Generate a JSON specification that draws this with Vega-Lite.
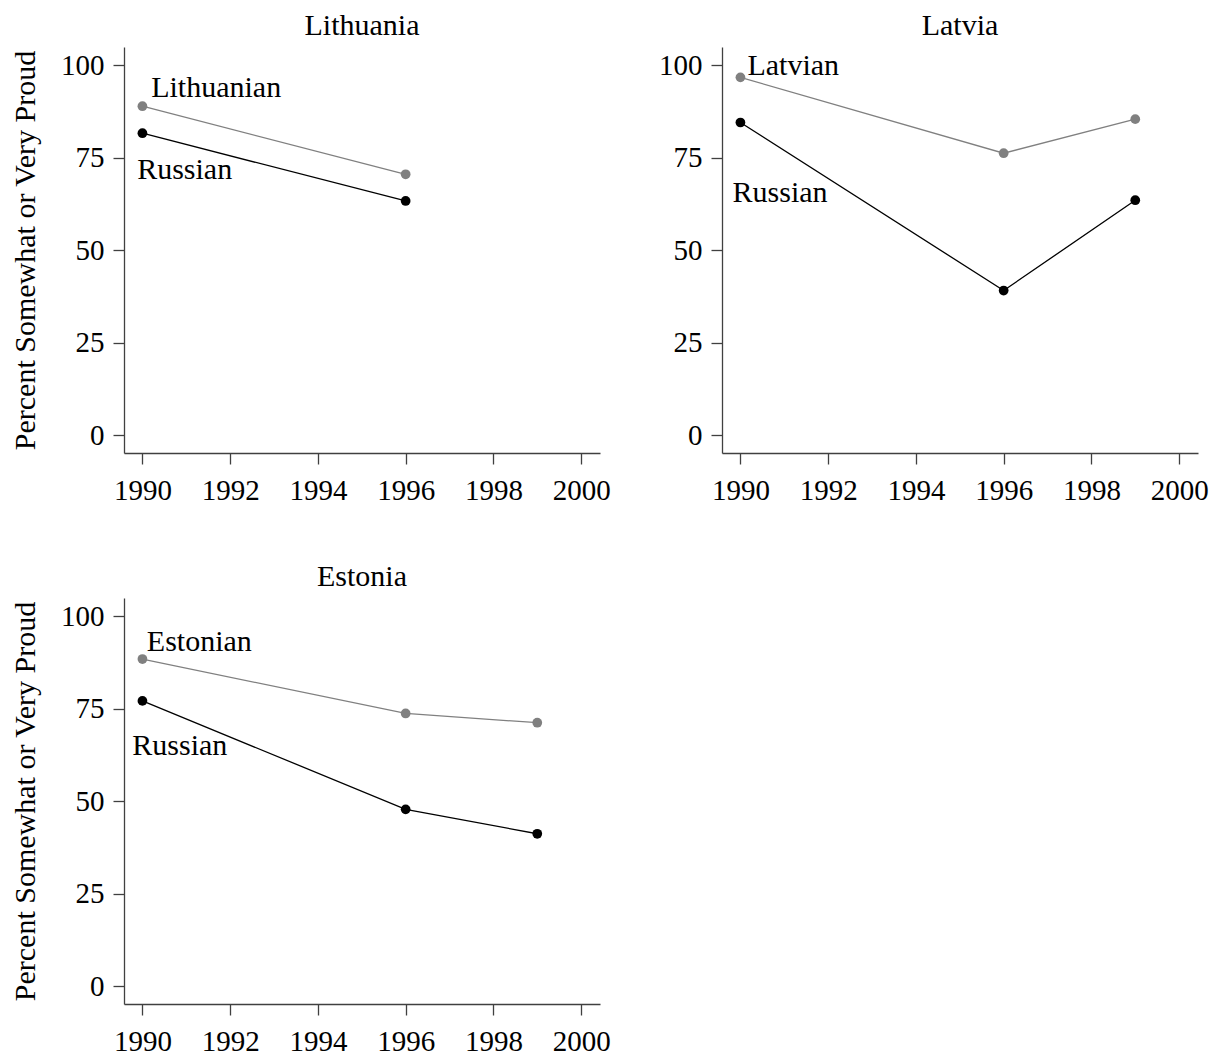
{
  "$schema": "https://vega.github.io/schema/vega-lite/v6.json",
  "background": "white",
  "padding": {"left": 10, "top": 11, "right": 5, "bottom": 5},
  "datasets": {
    "series": [
      {"country": "Lithuania", "group": "Lithuanian", "year": 1990, "value": 88.9},
      {"country": "Lithuania", "group": "Lithuanian", "year": 1996, "value": 70.5},
      {"country": "Lithuania", "group": "Russian", "year": 1990, "value": 81.6},
      {"country": "Lithuania", "group": "Russian", "year": 1996, "value": 63.3},
      {"country": "Latvia", "group": "Latvian", "year": 1990, "value": 96.7},
      {"country": "Latvia", "group": "Latvian", "year": 1996, "value": 76.2},
      {"country": "Latvia", "group": "Latvian", "year": 1999, "value": 85.4},
      {"country": "Latvia", "group": "Russian", "year": 1990, "value": 84.5},
      {"country": "Latvia", "group": "Russian", "year": 1996, "value": 39.1},
      {"country": "Latvia", "group": "Russian", "year": 1999, "value": 63.5},
      {"country": "Estonia", "group": "Estonian", "year": 1990, "value": 88.4},
      {"country": "Estonia", "group": "Estonian", "year": 1996, "value": 73.7},
      {"country": "Estonia", "group": "Estonian", "year": 1999, "value": 71.2},
      {"country": "Estonia", "group": "Russian", "year": 1990, "value": 77.1},
      {"country": "Estonia", "group": "Russian", "year": 1996, "value": 47.8},
      {"country": "Estonia", "group": "Russian", "year": 1999, "value": 41.2}
    ],
    "labels": [
      {"country": "Lithuania", "label": "Lithuanian", "year": 1990.2, "value": 93.8},
      {"country": "Lithuania", "label": "Russian", "year": 1989.88, "value": 71.6},
      {"country": "Latvia", "label": "Latvian", "year": 1990.16, "value": 99.7},
      {"country": "Latvia", "label": "Russian", "year": 1989.82, "value": 65.5},
      {"country": "Estonia", "label": "Estonian", "year": 1990.1, "value": 93.0},
      {"country": "Estonia", "label": "Russian", "year": 1989.77, "value": 64.8}
    ]
  },
  "columns": 2,
  "bounds": "flush",
  "spacing": {"row": 145, "column": 122},
  "concat": [
    {
      "title": {"text": "Lithuania"},
      "width": 476,
      "height": 406,
      "layer": [
        {
          "data": {"name": "series"},
          "transform": [{"filter": "datum.country === 'Lithuania'"}],
          "mark": {"type": "line", "strokeWidth": 1.3},
          "encoding": {
            "x": {"field": "year", "type": "quantitative", "scale": {"domain": [1989.58, 2000.43], "nice": false, "zero": false}, "axis": {"values": [1990, 1992, 1994, 1996, 1998, 2000], "format": "d", "title": null}},
            "y": {"field": "value", "type": "quantitative", "scale": {"domain": [-4.8, 104.9], "nice": false, "zero": false}, "axis": {"values": [0, 25, 50, 75, 100], "title": "Percent Somewhat or Very Proud"}},
            "color": {"field": "group", "type": "nominal", "scale": {"domain": ["Lithuanian", "Latvian", "Estonian", "Russian"], "range": ["#808080", "#808080", "#808080", "#000000"]}, "legend": null}
          }
        },
        {
          "data": {"name": "series"},
          "transform": [{"filter": "datum.country === 'Lithuania'"}],
          "mark": {"type": "point", "filled": true, "opacity": 1, "size": 95},
          "encoding": {
            "x": {"field": "year", "type": "quantitative"},
            "y": {"field": "value", "type": "quantitative"},
            "color": {"field": "group", "type": "nominal", "legend": null}
          }
        },
        {
          "data": {"name": "labels"},
          "transform": [{"filter": "datum.country === 'Lithuania'"}],
          "mark": {"type": "text", "align": "left", "baseline": "middle", "font": "Liberation Serif", "fontSize": 30, "color": "black"},
          "encoding": {
            "x": {"field": "year", "type": "quantitative"},
            "y": {"field": "value", "type": "quantitative"},
            "text": {"field": "label"}
          }
        }
      ]
    },
    {
      "title": {"text": "Latvia"},
      "width": 476,
      "height": 406,
      "layer": [
        {
          "data": {"name": "series"},
          "transform": [{"filter": "datum.country === 'Latvia'"}],
          "mark": {"type": "line", "strokeWidth": 1.3},
          "encoding": {
            "x": {"field": "year", "type": "quantitative", "scale": {"domain": [1989.58, 2000.43], "nice": false, "zero": false}, "axis": {"values": [1990, 1992, 1994, 1996, 1998, 2000], "format": "d", "title": null}},
            "y": {"field": "value", "type": "quantitative", "scale": {"domain": [-4.8, 104.9], "nice": false, "zero": false}, "axis": {"values": [0, 25, 50, 75, 100], "title": null}},
            "color": {"field": "group", "type": "nominal", "scale": {"domain": ["Lithuanian", "Latvian", "Estonian", "Russian"], "range": ["#808080", "#808080", "#808080", "#000000"]}, "legend": null}
          }
        },
        {
          "data": {"name": "series"},
          "transform": [{"filter": "datum.country === 'Latvia'"}],
          "mark": {"type": "point", "filled": true, "opacity": 1, "size": 95},
          "encoding": {
            "x": {"field": "year", "type": "quantitative"},
            "y": {"field": "value", "type": "quantitative"},
            "color": {"field": "group", "type": "nominal", "legend": null}
          }
        },
        {
          "data": {"name": "labels"},
          "transform": [{"filter": "datum.country === 'Latvia'"}],
          "mark": {"type": "text", "align": "left", "baseline": "middle", "font": "Liberation Serif", "fontSize": 30, "color": "black"},
          "encoding": {
            "x": {"field": "year", "type": "quantitative"},
            "y": {"field": "value", "type": "quantitative"},
            "text": {"field": "label"}
          }
        }
      ]
    },
    {
      "title": {"text": "Estonia"},
      "width": 476,
      "height": 406,
      "layer": [
        {
          "data": {"name": "series"},
          "transform": [{"filter": "datum.country === 'Estonia'"}],
          "mark": {"type": "line", "strokeWidth": 1.3},
          "encoding": {
            "x": {"field": "year", "type": "quantitative", "scale": {"domain": [1989.58, 2000.43], "nice": false, "zero": false}, "axis": {"values": [1990, 1992, 1994, 1996, 1998, 2000], "format": "d", "title": null}},
            "y": {"field": "value", "type": "quantitative", "scale": {"domain": [-4.8, 104.9], "nice": false, "zero": false}, "axis": {"values": [0, 25, 50, 75, 100], "title": "Percent Somewhat or Very Proud"}},
            "color": {"field": "group", "type": "nominal", "scale": {"domain": ["Lithuanian", "Latvian", "Estonian", "Russian"], "range": ["#808080", "#808080", "#808080", "#000000"]}, "legend": null}
          }
        },
        {
          "data": {"name": "series"},
          "transform": [{"filter": "datum.country === 'Estonia'"}],
          "mark": {"type": "point", "filled": true, "opacity": 1, "size": 95},
          "encoding": {
            "x": {"field": "year", "type": "quantitative"},
            "y": {"field": "value", "type": "quantitative"},
            "color": {"field": "group", "type": "nominal", "legend": null}
          }
        },
        {
          "data": {"name": "labels"},
          "transform": [{"filter": "datum.country === 'Estonia'"}],
          "mark": {"type": "text", "align": "left", "baseline": "middle", "font": "Liberation Serif", "fontSize": 30, "color": "black"},
          "encoding": {
            "x": {"field": "year", "type": "quantitative"},
            "y": {"field": "value", "type": "quantitative"},
            "text": {"field": "label"}
          }
        }
      ]
    }
  ],
  "config": {
    "view": {"stroke": null},
    "font": "Liberation Serif",
    "title": {"font": "Liberation Serif", "fontSize": 30, "fontWeight": "normal", "color": "black", "anchor": "middle", "frame": "group", "offset": 6},
    "axis": {
      "grid": false,
      "domainColor": "#404040",
      "domainWidth": 1.3,
      "tickColor": "#404040",
      "tickWidth": 1.3,
      "tickSize": 11,
      "labelFont": "Liberation Serif",
      "labelFontSize": 29,
      "labelColor": "black",
      "labelOverlap": false,
      "labelFlush": false,
      "titleFont": "Liberation Serif",
      "titleFontSize": 30,
      "titleFontWeight": "normal",
      "titleColor": "black",
      "titlePadding": 20
    },
    "axisX": {"labelPadding": 12},
    "axisY": {"labelPadding": 9}
  }
}
